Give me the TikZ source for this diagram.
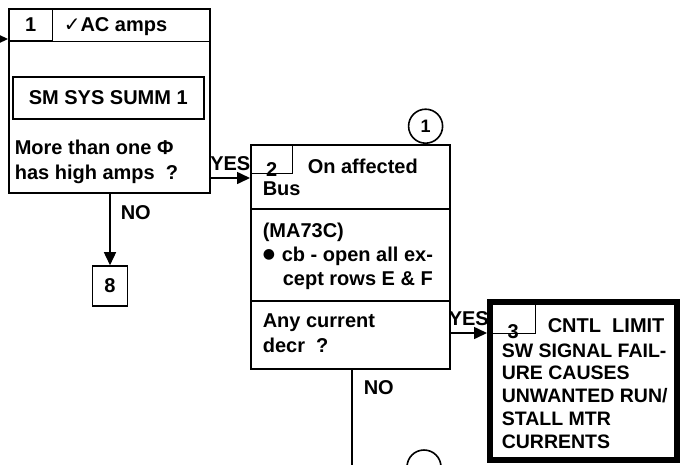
\documentclass[tikz,border=0pt]{standalone}
\usepackage{fontspec}
\setmainfont{Liberation Sans}
\newfontfamily\checkfont{DejaVu Sans}
\usetikzlibrary{arrows.meta,positioning}

\begin{document}
\begin{tikzpicture}[x=1pt,y=-1pt,line width=1.6pt,>={Triangle[length=13pt,width=12pt]},
  every node/.style={font=\fontsize{20}{24.5}\selectfont\bfseries},
  box/.style={draw,anchor=north west,inner sep=0pt},
  numcell/.style={draw,anchor=north west,inner sep=0pt,line width=1.4pt},
  txt/.style={anchor=base west,align=left,inner sep=0pt},
  lbl/.style={inner sep=0pt},
  tag/.style={circle,draw,inner sep=0pt,minimum size=34pt,font=\fontsize{18}{20}\selectfont\bfseries}]
\useasboundingbox (0,0) rectangle (680,464);

% block 1 (text nodes sit on the baseline of their last line)
\node[box,minimum width=201pt,minimum height=184pt] (b1) at (8,8) {};
\node[numcell,minimum width=44pt,minimum height=32pt] (n1) at (8,8) {1};
\draw (n1.south west) -- (n1.south west -| b1.east);
\node[txt] (h1) at (63,31) {{\checkfont\bfseries ✓}AC amps};
\node[box,minimum width=191pt,minimum height=42pt] (s1) at (12,76) {SM SYS SUMM 1};
\node[txt] (q1) at (14,179) {More than one Φ\\has high amps\ \ ?};
\node[box,anchor=center,minimum width=35pt,minimum height=40pt] (b8) at (110,286) {8};
\coordinate (in1) at (0,39);

% block 2
\node[box,minimum width=199pt,minimum height=224pt] (b2) at (250,144) {};
\node[numcell,minimum width=42pt,minimum height=29pt] (n2) at (250,144) {};
\node[lbl,anchor=base] (d2) at ([yshift=-2pt]n2.south) {2};
\node[txt] (h2) at (307,173) {On affected};
\node[txt] (h2b) at (262,195) {Bus};
\draw ([yshift=-65pt]b2.north west) -- ([yshift=-65pt]b2.north east);
\node[txt,font=\fontsize{20}{24}\selectfont\bfseries] (a2) at (262,285)
  {(MA73C)\\\makebox[19pt][l]{\raisebox{2.5pt}{\checkfont\fontsize{14}{14}\selectfont ●}}cb - open all ex-\\\hspace*{20pt}cept rows E \& F};
\draw ([yshift=-157pt]b2.north west) -- ([yshift=-157pt]b2.north east);
\node[txt] (q2) at (262,352) {Any current\\decr\ \ ?};
\node[tag,anchor=south] (c1) at ([xshift=-25pt]b2.north east) {1};
\coordinate (out2) at (352,475);
\node[tag] (c2) at (424,467) {};

% block 3
\node[box,line width=5.5pt,minimum width=187pt,minimum height=158pt] (b3) at (487,299) {};
\node[numcell,minimum width=45pt,minimum height=31pt] (n3) at (490,302) {};
\node[lbl,anchor=base] (d3) at ([yshift=-4pt]n3.south) {3};
\node[txt] (h3) at (547,332) {CNTL\ \ LIMIT};
\node[txt,font=\fontsize{19.5}{22.75}\selectfont\bfseries] (t3) at (501,448)
  {SW SIGNAL FAIL-\\URE CAUSES\\UNWANTED RUN/\\STALL MTR\\CURRENTS};

% connectors
\coordinate (y1) at (0,178);
\coordinate (y2) at (0,333);
\draw[->] (in1) -- (in1 -| b1.west);
\draw[->] (b8 |- b1.south) -- node[lbl,right=10pt,pos=0.27] {NO} (b8.north);
\draw[->] (b1.east |- y1) -- node[lbl,above=7pt] {YES} (b2.west |- y1);
\draw (b2.south -| out2) -- node[lbl,right=11pt,pos=0.17] {NO} (out2);
\draw[->] (b2.east |- y2) -- node[lbl,above=7pt] {YES} (b3.west |- y2);
\end{tikzpicture}
\end{document}
